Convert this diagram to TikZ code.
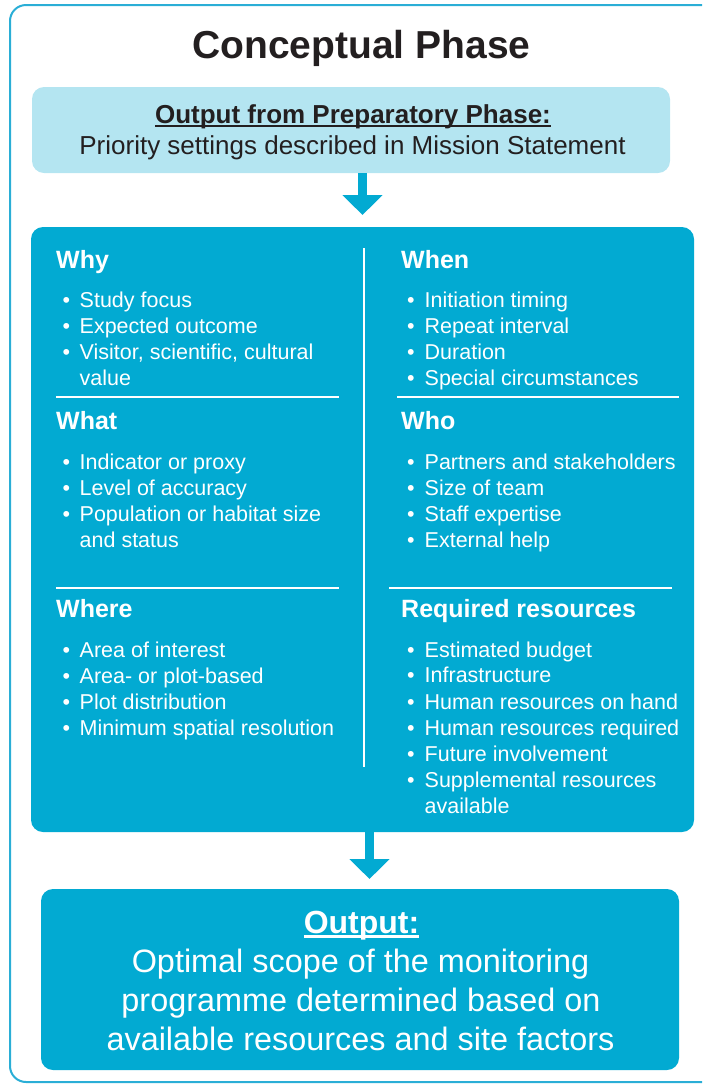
\documentclass[tikz,border=0pt]{standalone}
\usepackage{fontspec}
\setmainfont{Liberation Sans}
\usetikzlibrary{arrows.meta}

\definecolor{phaseblue}{HTML}{02AAD2}
\definecolor{paleblue}{HTML}{B4E5F1}
\definecolor{framecol}{HTML}{2AAED6}
\definecolor{ink}{HTML}{231F20}

% underline drawn as a rule at a chosen depth: #1 depth, #2 thickness, #3 text
\newcommand\ulin[3]{\setbox0\hbox{#3}\rlap{\rule[-#1]{\wd0}{#2}}\box0}

% a bulleted column: #1 name prefix, #2 bullet x, #3 text x, #4 text/baseline/has-bullet
\newcommand\bulletlist[4]{%
  \foreach \t/\y/\b [count=\i] in {#4} {
    \node[item] (#1-\i) at (#3,\y) {\t};
    \ifnum\b=1 \node[dot] (#1-dot-\i) at (#2,\y) {\textbullet};\fi
  }}

\begin{document}
\begin{tikzpicture}[x=1pt,y=-1pt,
  panel/.style={rounded corners=12pt, inner sep=0pt, outer sep=0pt},
  item/.style={inner sep=0pt, anchor=base west, text=white,
    font=\fontsize{21.5}{26}\selectfont},
  dot/.style={inner sep=0pt, anchor=base, text=white,
    font=\fontsize{21.5}{26}\selectfont},
  head/.style={inner sep=0pt, anchor=base west, text=white,
    font=\fontsize{25}{30}\selectfont\bfseries},
  result/.style={inner sep=0pt, anchor=base, text=white,
    font=\fontsize{32.4}{38}\selectfont},
  rulewhite/.style={white, line width=2.3pt},
  flow/.style={phaseblue, line width=9pt, line join=miter,
    -{Triangle[width=39pt,length=20pt]}}
]
\useasboundingbox (0,0) rectangle (702,1085);

% outer frame of the phase, running off the right edge
\begin{scope}
  \clip (0,0) rectangle (702,1085);
  \draw[framecol, line width=2pt, rounded corners=16pt] (10,5) rectangle (740,1082);
\end{scope}

% title
\node[inner sep=0pt, anchor=base, text=ink, font=\fontsize{39}{44}\selectfont\bfseries]
  (title) at (361.5,58) {Conceptual Phase};

% input box
\node[panel, fill=paleblue, minimum width=638pt, minimum height=86pt] (prep) at (351,130) {};
\node[inner sep=0pt, anchor=base, text=ink, font=\fontsize{26}{30}\selectfont\bfseries]
  (prephead) at (353,123) {\ulin{3.5pt}{2pt}{Output from Preparatory Phase:}};
\node[inner sep=0pt, anchor=base, text=ink, font=\fontsize{26}{30}\selectfont]
  (preptext) at (352.5,154) {Priority settings described in Mission Statement};

% main panel
\node[panel, fill=phaseblue, minimum width=663pt, minimum height=605pt] (main) at (362.5,529.5) {};

% result box
\node[panel, fill=phaseblue, minimum width=638pt, minimum height=181pt] (result) at (360,979.5) {};

% block arrows
\draw[flow, shorten >=12pt] (main.north |- prep.south) -- (main.north);
\draw[flow, shorten >=10pt] ([xshift=7pt]main.south) -- ([xshift=7pt]main.south |- result.north);

% dividers inside the main panel
\draw[rulewhite] (364,248) -- (364,767);
\draw[rulewhite] (56,397) -- (339,397);
\draw[rulewhite] (56,588) -- (339,588);
\draw[rulewhite] (397,397) -- (679,397);
\draw[rulewhite] (389,588) -- (672,588);

% left column
\node[head] (why) at (56,268) {Why};
\bulletlist{why}{66.5}{79.5}{Study focus/307/1, Expected outcome/333/1,
  {Visitor, scientific, cultural}/359/1, value/385/0}
\node[head] (what) at (56,429) {What};
\bulletlist{what}{66.5}{79.5}{Indicator or proxy/469/1, Level of accuracy/495/1,
  Population or habitat size/521/1, and status/547/0}
\node[head] (where) at (56,617) {Where};
\bulletlist{where}{66.5}{79.5}{Area of interest/657/1, Area- or plot-based/683/1,
  Plot distribution/709/1, Minimum spatial resolution/735/1}

% right column
\node[head] (when) at (401,268) {When};
\bulletlist{when}{411}{424.5}{Initiation timing/307/1, Repeat interval/333/1,
  Duration/359/1, Special circumstances/385/1}
\node[head] (who) at (401,429) {Who};
\bulletlist{who}{411}{424.5}{Partners and stakeholders/469/1, Size of team/495/1,
  Staff expertise/521/1, External help/547/1}
\node[head] (res) at (401,617) {Required resources};
\bulletlist{res}{411}{424.5}{Estimated budget/657/1, Infrastructure/682/1,
  Human resources on hand/709/1, Human resources required/735/1,
  Future involvement/761/1, Supplemental resources/787/1, available/813/0}

% result text
\node[inner sep=0pt, anchor=base, text=white, font=\fontsize{32}{38}\selectfont\bfseries]
  (outhead) at (361.5,933) {\ulin{4.5pt}{2.4pt}{Output:}};
\node[result] (out1) at (360.5,972) {Optimal scope of the monitoring};
\node[result] (out2) at (361,1011) {programme determined based on};
\node[result] (out3) at (360.5,1050) {available resources and site factors};
\end{tikzpicture}
\end{document}
